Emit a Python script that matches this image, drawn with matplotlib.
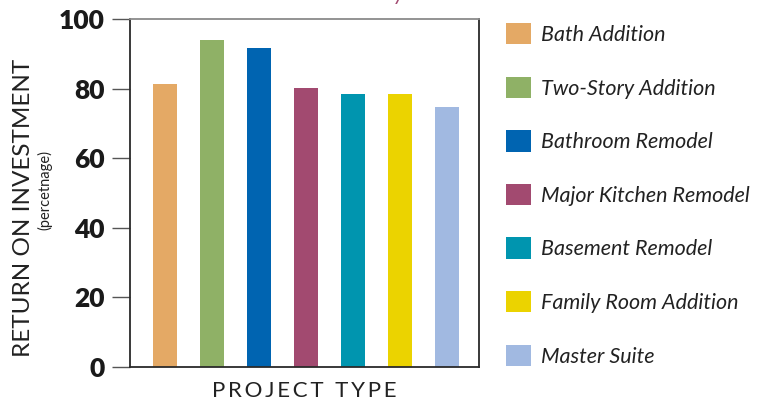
import matplotlib
matplotlib.use("Agg")
import matplotlib.pyplot as plt
from matplotlib.patches import Patch
import numpy as np

projects = ["Bath Addition", "Two-Story Addition", "Bathroom Remodel",
            "Major Kitchen Remodel", "Basement Remodel", "Family Room Addition",
            "Master Suite"]
roi = [81.3, 94.0, 91.7, 80.2, 78.4, 78.4, 74.7]
colors = ["#E4A965", "#8FB166", "#0064B1", "#A24A70", "#0095AF", "#EBD300", "#A1B9E1"]
yticks = [0, 20, 40, 60, 80, 100]

plt.rcParams['font.family'] = ['Lato', 'DejaVu Sans']

fig = plt.figure(figsize=(7.7, 4.0), dpi=100)
ax = fig.add_axes([130 / 770, 33 / 400, 349 / 770, 348 / 400])

x = np.arange(len(projects))
ax.bar(x, roi, width=0.51, color=colors, zorder=2)

ax.set_xlim(-0.745, 6.68)
ax.set_ylim(0, 100)
ax.set_xticks([])
ax.set_yticks(yticks)
ax.set_yticklabels([str(t) for t in yticks], fontsize=19, fontweight='heavy', color='#1a1a1a')
ax.tick_params(axis='y', length=13, width=1.0, color='#555555', pad=5)

for side in ['left', 'bottom', 'right']:
    ax.spines[side].set_color('#2a2a2a')
    ax.spines[side].set_linewidth(1.3)
ax.spines['top'].set_color('#8a8a8a')
ax.spines['top'].set_linewidth(1.3)

xlabel = "  ".join("\u2009".join(w) for w in ["PROJECT", "TYPE"])
ax.set_xlabel(xlabel, fontsize=16, color='#222222', labelpad=10)

fig.text(24 / 770, 1 - 208 / 400, "RETURN ON INVESTMENT", rotation=90,
         ha='center', va='center', fontsize=17.5, color='#222222')
fig.text(45 / 770, 1 - 190 / 400, "(percetnage)", rotation=90,
         ha='center', va='center', fontsize=10.5, color='#222222')

# clipped piece of the title above the chart
fig.text(393 / 770, 1.0, "y", ha='left', va='baseline', fontsize=15,
         style='italic', color='#A24A70')

handles = [Patch(facecolor=c, edgecolor='none') for c in colors]
fig.legend(handles, projects, loc='upper left', bbox_to_anchor=(506 / 770, 1 - 23 / 400),
           frameon=False, borderpad=0, borderaxespad=0,
           handlelength=1.15, handleheight=1.15, handletextpad=0.48, labelspacing=1.47,
           prop={'style': 'italic', 'size': 15.5})
for t in fig.legends[0].get_texts():
    t.set_color('#222222')

fig.savefig("out.png", dpi=100)
